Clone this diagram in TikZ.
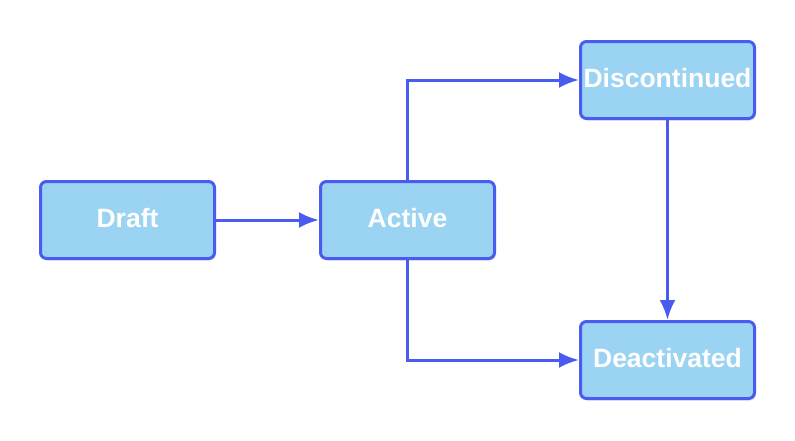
\documentclass[tikz,border=0pt]{standalone}
\usepackage{fontspec}
\setmainfont{Liberation Sans}
\usetikzlibrary{arrows.meta,positioning,shadows}
\definecolor{edgeblue}{RGB}{74,91,240}
\definecolor{boxfill}{RGB}{155,211,243}
\begin{document}
\begin{tikzpicture}[
    x=1pt, y=-1pt,
    state/.style={rectangle, rounded corners=6pt, draw=edgeblue, fill=boxfill,
                  line width=3pt, minimum width=174pt, minimum height=77pt,
                  inner sep=0pt, text=white, text depth=4pt,
                  font=\fontsize{26.5}{30}\selectfont\bfseries,
                  drop shadow={shadow xshift=1.5pt, shadow yshift=-2pt,
                               opacity=0.12, fill=black}},
    transition/.style={draw=edgeblue, line width=3pt,
                       -{Latex[length=20pt,width=16pt]}}
]

    \useasboundingbox (0,0) rectangle (795,440);

    % states
    \node[state] (draft)        at (127.5,220) {Draft};
    \node[state] (active)       at (407.5,220) {Active};
    \node[state] (discontinued) at (667.5,80)  {Discontinued};
    \node[state] (deactivated)  at (667.5,360) {Deactivated};

    % transitions
    \draw[transition] (draft) -- (active);
    \draw[transition] (active.north) |- (discontinued.west);
    \draw[transition] (active.south) |- (deactivated.west);
    \draw[transition] (discontinued) -- (deactivated);

\end{tikzpicture}
\end{document}
